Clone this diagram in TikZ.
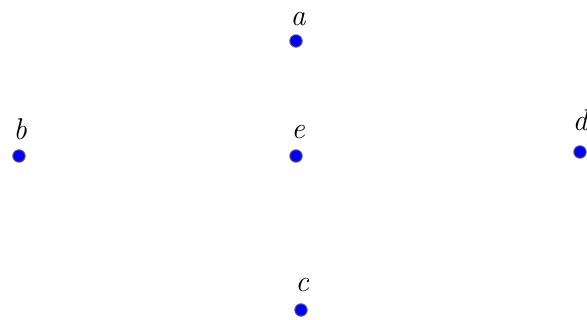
\documentclass[tikz,border=0pt]{standalone}
\usepackage{fontspec}
\begin{document}
\begin{tikzpicture}[x=1pt,y=-1pt,
  vdot/.style={circle,inner sep=0pt,minimum size=12.5pt,fill=blue,draw=black!60,line width=0.9pt},
  vlab/.style={anchor=base,inner sep=0pt,font=\fontsize{30}{32}\selectfont\itshape}]
\useasboundingbox (0,0) rectangle (587,320);
\node[vdot] (a) at (296,41) {};
\node[vdot] (b) at (19,156) {};
\node[vdot] (e) at (296,156) {};
\node[vdot] (d) at (580,152) {};
\node[vdot] (c) at (301,310) {};
\node[vlab] (la) at (298,26) {a};
\node[vlab] (lb) at (20,140) {b};
\node[vlab] (le) at (298,139) {e};
\node[vlab] (ld) at (580,131) {d};
\node[vlab] (lc) at (302,292) {c};
\end{tikzpicture}
\end{document}
